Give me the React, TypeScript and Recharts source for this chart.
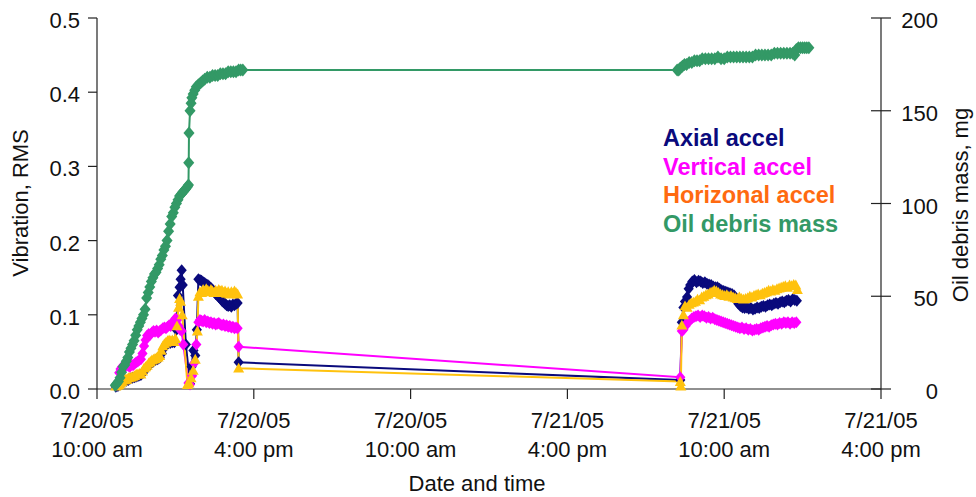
import React from 'react';
import { LineChart, Line, XAxis, YAxis, Label } from 'recharts';

const FONT = '"Liberation Sans", Arial, sans-serif';

// x axis: hours after 7/20/05 10:00 am
const hourTicks = [0, 6, 12, 18, 24, 30];
const dateLabels = ['7/20/05', '7/20/05', '7/20/05', '7/21/05', '7/21/05', '7/21/05'];
const timeLabels = ['10:00 am', '4:00 pm', '10:00 am', '4:00 pm', '10:00 am', '4:00 pm'];
const vibrationTicks = [0, 0.1, 0.2, 0.3, 0.4, 0.5];
const debrisTicks = [0, 50, 100, 150, 200];

// [hours, RMS]
const axialPoints = [
    [0.72, 0.003], [0.8, 0.004], [0.88, 0.006], [0.96, 0.008], [1.04, 0.01], [1.12, 0.011], [1.2, 0.012],
    [1.28, 0.014], [1.36, 0.015], [1.44, 0.016], [1.52, 0.017], [1.6, 0.018], [1.68, 0.019], [1.76, 0.022],
    [1.84, 0.026], [1.92, 0.029], [2.0, 0.032], [2.08, 0.035], [2.16, 0.037], [2.24, 0.039], [2.32, 0.04],
    [2.4, 0.042], [2.48, 0.048], [2.56, 0.055], [2.64, 0.06], [2.72, 0.062], [2.8, 0.062], [2.88, 0.063],
    [2.96, 0.063], [3.04, 0.08], [3.1, 0.126], [3.16, 0.137], [3.2, 0.148], [3.24, 0.16], [3.28, 0.14],
    [3.4, 0.06], [3.56, 0.007], [3.62, 0.03], [3.69, 0.052], [3.76, 0.045], [3.82, 0.08], [3.88, 0.148],
    [3.94, 0.147], [4.0, 0.146], [4.06, 0.144], [4.12, 0.143], [4.18, 0.141], [4.24, 0.14], [4.3, 0.138],
    [4.36, 0.136], [4.42, 0.134], [4.48, 0.131], [4.54, 0.128], [4.6, 0.126], [4.66, 0.124], [4.72, 0.122],
    [4.78, 0.119], [4.84, 0.117], [4.9, 0.115], [4.96, 0.113], [5.02, 0.112], [5.08, 0.113], [5.14, 0.111],
    [5.2, 0.114], [5.26, 0.113], [5.32, 0.115], [5.38, 0.116], [5.42, 0.036],
    [22.32, 0.012], [22.38, 0.09], [22.44, 0.11], [22.5, 0.118], [22.58, 0.124], [22.64, 0.135], [22.7, 0.14],
    [22.78, 0.145], [22.86, 0.147], [22.94, 0.144], [23.02, 0.146], [23.1, 0.145], [23.18, 0.143],
    [23.26, 0.144], [23.34, 0.142], [23.42, 0.141], [23.5, 0.14], [23.58, 0.138], [23.66, 0.137],
    [23.74, 0.137], [23.82, 0.135], [23.9, 0.133], [23.98, 0.132], [24.06, 0.131], [24.14, 0.13],
    [24.22, 0.129], [24.3, 0.128], [24.38, 0.126], [24.46, 0.12], [24.54, 0.115], [24.62, 0.112],
    [24.7, 0.11], [24.78, 0.109], [24.86, 0.11], [24.94, 0.108], [25.02, 0.109], [25.1, 0.107],
    [25.18, 0.108], [25.26, 0.11], [25.34, 0.109], [25.42, 0.111], [25.5, 0.112], [25.58, 0.111],
    [25.66, 0.113], [25.74, 0.114], [25.82, 0.113], [25.9, 0.115], [25.98, 0.116], [26.06, 0.115],
    [26.14, 0.117], [26.22, 0.118], [26.3, 0.117], [26.38, 0.119], [26.46, 0.12], [26.54, 0.118],
    [26.62, 0.121], [26.7, 0.12], [26.78, 0.119],
];

const verticalPoints = [
    [0.85, 0.022], [0.9, 0.027], [0.96, 0.03], [1.02, 0.031], [1.08, 0.03], [1.14, 0.032], [1.2, 0.031],
    [1.26, 0.03], [1.32, 0.033], [1.38, 0.032], [1.44, 0.034], [1.5, 0.036], [1.56, 0.037], [1.62, 0.039],
    [1.68, 0.04], [1.74, 0.048], [1.8, 0.058], [1.86, 0.066], [1.92, 0.072], [1.98, 0.074], [2.04, 0.073],
    [2.1, 0.076], [2.16, 0.078], [2.22, 0.077], [2.28, 0.079], [2.34, 0.076], [2.4, 0.078], [2.46, 0.08],
    [2.52, 0.082], [2.58, 0.083], [2.64, 0.082], [2.7, 0.084], [2.76, 0.086], [2.82, 0.085], [2.88, 0.088],
    [2.94, 0.092], [3.0, 0.095], [3.06, 0.093], [3.12, 0.085], [3.18, 0.08], [3.24, 0.078], [3.3, 0.06],
    [3.5, 0.008], [3.56, 0.006], [3.64, 0.018], [3.72, 0.035], [3.8, 0.06], [3.88, 0.09], [3.94, 0.093],
    [4.0, 0.092], [4.06, 0.091], [4.12, 0.093], [4.18, 0.09], [4.24, 0.091], [4.3, 0.089], [4.36, 0.09],
    [4.42, 0.088], [4.48, 0.089], [4.54, 0.087], [4.6, 0.088], [4.66, 0.089], [4.72, 0.087], [4.78, 0.086],
    [4.84, 0.087], [4.9, 0.085], [4.96, 0.086], [5.02, 0.084], [5.08, 0.085], [5.14, 0.083], [5.2, 0.084],
    [5.26, 0.082], [5.32, 0.083], [5.38, 0.082], [5.42, 0.057],
    [22.32, 0.016], [22.38, 0.078], [22.44, 0.08], [22.52, 0.085], [22.6, 0.09], [22.68, 0.092],
    [22.76, 0.095], [22.84, 0.097], [22.92, 0.098], [23.0, 0.099], [23.08, 0.097], [23.16, 0.099],
    [23.24, 0.098], [23.32, 0.096], [23.4, 0.097], [23.48, 0.095], [23.56, 0.096], [23.64, 0.094],
    [23.72, 0.093], [23.8, 0.092], [23.88, 0.091], [23.96, 0.09], [24.04, 0.089], [24.12, 0.088],
    [24.2, 0.087], [24.28, 0.086], [24.36, 0.085], [24.44, 0.084], [24.52, 0.083], [24.6, 0.082],
    [24.68, 0.083], [24.76, 0.081], [24.84, 0.082], [24.92, 0.08], [25.0, 0.081], [25.08, 0.079],
    [25.16, 0.08], [25.24, 0.081], [25.32, 0.08], [25.4, 0.082], [25.48, 0.083], [25.56, 0.084],
    [25.64, 0.085], [25.72, 0.084], [25.8, 0.086], [25.88, 0.087], [25.96, 0.088], [26.04, 0.087],
    [26.12, 0.089], [26.2, 0.088], [26.28, 0.09], [26.36, 0.089], [26.44, 0.09], [26.52, 0.088],
    [26.6, 0.09], [26.68, 0.089], [26.76, 0.09],
];

const horizontalPoints = [
    [0.72, 0.004], [0.78, 0.005], [0.84, 0.006], [0.9, 0.008], [0.96, 0.01], [1.02, 0.012], [1.08, 0.013],
    [1.14, 0.013], [1.2, 0.015], [1.26, 0.016], [1.32, 0.016], [1.38, 0.017], [1.44, 0.018], [1.5, 0.02],
    [1.56, 0.02], [1.62, 0.021], [1.68, 0.02], [1.74, 0.024], [1.8, 0.028], [1.86, 0.03], [1.92, 0.032],
    [1.98, 0.035], [2.04, 0.037], [2.1, 0.039], [2.16, 0.04], [2.22, 0.041], [2.28, 0.042], [2.34, 0.043],
    [2.4, 0.045], [2.46, 0.052], [2.52, 0.058], [2.58, 0.061], [2.64, 0.063], [2.7, 0.065], [2.76, 0.066],
    [2.82, 0.065], [2.88, 0.066], [2.94, 0.064], [3.0, 0.068], [3.06, 0.085], [3.12, 0.11], [3.16, 0.122],
    [3.2, 0.118], [3.26, 0.1], [3.46, 0.006], [3.52, 0.008], [3.6, 0.015], [3.68, 0.025], [3.76, 0.04],
    [3.84, 0.078], [3.88, 0.125], [3.94, 0.131], [4.0, 0.13], [4.06, 0.134], [4.12, 0.132], [4.18, 0.135],
    [4.24, 0.133], [4.3, 0.131], [4.36, 0.134], [4.42, 0.132], [4.48, 0.13], [4.54, 0.133], [4.6, 0.131],
    [4.66, 0.134], [4.72, 0.132], [4.78, 0.133], [4.84, 0.13], [4.9, 0.132], [4.96, 0.129], [5.02, 0.131],
    [5.08, 0.128], [5.14, 0.131], [5.2, 0.129], [5.26, 0.132], [5.32, 0.13], [5.38, 0.128], [5.42, 0.028],
    [22.32, 0.01], [22.34, 0.004], [22.38, 0.086], [22.44, 0.1], [22.5, 0.112], [22.58, 0.11],
    [22.66, 0.114], [22.74, 0.116], [22.82, 0.117], [22.9, 0.118], [22.98, 0.121], [23.06, 0.12],
    [23.14, 0.124], [23.22, 0.125], [23.3, 0.127], [23.38, 0.128], [23.46, 0.13], [23.54, 0.131],
    [23.62, 0.133], [23.7, 0.132], [23.78, 0.13], [23.86, 0.128], [23.94, 0.127], [24.02, 0.126],
    [24.1, 0.127], [24.18, 0.125], [24.26, 0.126], [24.34, 0.124], [24.42, 0.123], [24.5, 0.122],
    [24.58, 0.124], [24.66, 0.122], [24.74, 0.121], [24.82, 0.122], [24.9, 0.123], [24.98, 0.125],
    [25.06, 0.124], [25.14, 0.126], [25.22, 0.127], [25.3, 0.128], [25.38, 0.127], [25.46, 0.129],
    [25.54, 0.13], [25.62, 0.131], [25.7, 0.133], [25.78, 0.132], [25.86, 0.134], [25.94, 0.133],
    [26.02, 0.135], [26.1, 0.136], [26.18, 0.137], [26.26, 0.138], [26.34, 0.139], [26.42, 0.137],
    [26.5, 0.14], [26.58, 0.139], [26.66, 0.141], [26.74, 0.14], [26.8, 0.134],
];

// [hours, mg]
const debrisPoints = [
    [0.7, 2], [0.76, 3], [0.82, 4], [0.88, 6], [0.94, 9], [1.0, 12], [1.06, 13], [1.12, 15], [1.18, 17],
    [1.24, 20], [1.3, 22], [1.36, 24], [1.42, 26], [1.48, 29], [1.54, 32], [1.6, 34], [1.66, 36], [1.72, 38],
    [1.78, 40], [1.84, 43], [1.9, 49], [1.96, 52], [2.02, 55], [2.08, 58], [2.14, 60], [2.2, 62], [2.26, 63],
    [2.32, 65], [2.38, 67], [2.44, 70], [2.5, 72], [2.56, 75], [2.62, 77], [2.68, 80], [2.74, 85], [2.8, 89],
    [2.86, 93], [2.92, 95], [2.98, 98], [3.04, 100], [3.1, 102], [3.16, 104], [3.22, 105], [3.28, 106],
    [3.34, 107], [3.4, 108], [3.46, 109], [3.5, 110], [3.51, 122], [3.52, 138], [3.56, 150], [3.6, 154],
    [3.63, 157], [3.68, 159], [3.74, 161], [3.8, 163], [3.88, 164], [3.96, 165], [4.04, 166], [4.12, 167],
    [4.22, 168], [4.32, 168], [4.42, 169], [4.52, 169], [4.62, 169], [4.72, 170], [4.82, 170], [4.92, 170],
    [5.02, 171], [5.12, 171], [5.22, 171], [5.32, 171], [5.42, 172], [5.5, 172], [5.58, 172],
    [22.2, 172], [22.26, 172], [22.32, 173], [22.4, 174], [22.48, 175], [22.56, 175], [22.66, 176],
    [22.76, 176], [22.86, 177], [22.96, 177], [23.06, 177], [23.16, 178], [23.28, 178], [23.4, 178],
    [23.52, 178], [23.64, 178], [23.76, 179], [23.88, 178], [24.0, 178], [24.12, 179], [24.24, 179],
    [24.36, 179], [24.48, 179], [24.6, 179], [24.72, 179], [24.84, 179], [24.96, 179], [25.08, 179],
    [25.2, 180], [25.32, 180], [25.44, 180], [25.56, 180], [25.68, 180], [25.8, 180], [25.92, 181],
    [26.04, 181], [26.16, 181], [26.28, 181], [26.4, 181], [26.52, 181], [26.62, 181], [26.7, 180],
    [26.76, 183], [26.84, 184], [26.92, 184], [27.0, 184], [27.08, 184], [27.16, 184], [27.24, 184],
];

const toRows = (pts: number[][]) => pts.map(([h, v]) => ({ h, v }));

const series = [
    { name: 'Axial accel', points: axialPoints, axis: 'vib', stroke: '#0a0a7c', text: '#0a0a7c', marker: 'diamond', size: 6 },
    { name: 'Vertical accel', points: verticalPoints, axis: 'vib', stroke: '#ff00ff', text: '#ff00ff', marker: 'diamond', size: 6 },
    { name: 'Horizonal accel', points: horizontalPoints, axis: 'vib', stroke: '#ffc20e', text: '#ff6a10', marker: 'triangle', size: 5.5 },
    { name: 'Oil debris mass', points: debrisPoints, axis: 'mass', stroke: '#339966', text: '#339966', marker: 'diamond', size: 6.5 },
];

function Marker({ cx, cy, fill, kind, r }: any) {
    if (cx == null || cy == null) return null;
    if (kind === 'triangle') {
        return <polygon points={`${cx},${cy - r} ${cx + r},${cy + r * 0.8} ${cx - r},${cy + r * 0.8}`} fill={fill} />;
    }
    return <polygon points={`${cx},${cy - r} ${cx + r * 0.85},${cy} ${cx},${cy + r} ${cx - r * 0.85},${cy}`} fill={fill} />;
}

function LeftTick({ x, y, payload }: any) {
    return (
        <text x={x} y={y + 10} textAnchor="end" fontSize={22} fill="#111" fontFamily={FONT}>
            {Number(payload.value).toFixed(1)}
        </text>
    );
}

function RightTick({ x, y, payload }: any) {
    const axisX = x - 57;
    return (
        <g>
            <line x1={axisX - 10} x2={axisX} y1={y} y2={y} stroke="#222" strokeWidth={1.2} />
            <text x={x} y={y + 10} textAnchor="end" fontSize={22} fill="#111" fontFamily={FONT}>
                {payload.value}
            </text>
        </g>
    );
}

function BottomTick({ x, y, payload, index }: any) {
    const i = hourTicks.indexOf(payload.value);
    const k = i >= 0 ? i : index;
    return (
        <text x={x} textAnchor="middle" fontSize={22} fill="#111" fontFamily={FONT}>
            <tspan x={x} y={y + 29}>{dateLabels[k]}</tspan>
            <tspan x={x} y={y + 57.5}>{timeLabels[k]}</tspan>
        </text>
    );
}

export default function App() {
    return (
        <div style={{ position: 'absolute', left: 0, top: 0, width: 976, height: 497, background: '#fff' }}>
            <LineChart width={976} height={497} margin={{ top: 18, right: 35, left: 37, bottom: 28 }}>
                <XAxis
                    type="number"
                    dataKey="h"
                    domain={[0, 30]}
                    ticks={hourTicks}
                    height={80}
                    tickSize={10}
                    tickMargin={0}
                    tick={<BottomTick />}
                    stroke="#222"
                    strokeWidth={1.2}
                    allowDuplicatedCategory={false}
                >
                    <Label
                        content={() => (
                            <text x={477} y={491} textAnchor="middle" fontSize={22} fill="#111" fontFamily={FONT}>
                                Date and time
                            </text>
                        )}
                    />
                </XAxis>
                <YAxis
                    yAxisId="vib"
                    domain={[0, 0.5]}
                    ticks={vibrationTicks}
                    width={60}
                    tickSize={9}
                    tickMargin={8}
                    tick={<LeftTick />}
                    stroke="#222"
                    strokeWidth={1.2}
                >
                    <Label
                        content={() => (
                            <text
                                x={20}
                                y={203}
                                transform="rotate(-90 20 203)"
                                textAnchor="middle"
                                dominantBaseline="central"
                                fontSize={22}
                                fill="#111"
                                fontFamily={FONT}
                            >
                                Vibration, RMS
                            </text>
                        )}
                    />
                </YAxis>
                <YAxis
                    yAxisId="mass"
                    orientation="right"
                    domain={[0, 200]}
                    ticks={debrisTicks}
                    width={60}
                    tickSize={10}
                    tickMargin={47}
                    tick={<RightTick />}
                    stroke="#222"
                    strokeWidth={1.2}
                >
                    <Label
                        content={() => (
                            <text
                                x={960}
                                y={205}
                                transform="rotate(-90 960 205)"
                                textAnchor="middle"
                                dominantBaseline="central"
                                fontSize={22}
                                fill="#111"
                                fontFamily={FONT}
                            >
                                Oil debris mass, mg
                            </text>
                        )}
                    />
                </YAxis>
                {series.map((s) => (
                    <Line
                        key={s.name}
                        name={s.name}
                        data={toRows(s.points)}
                        dataKey="v"
                        yAxisId={s.axis}
                        type="linear"
                        stroke={s.stroke}
                        strokeWidth={2}
                        dot={(p: any) => (
                            <Marker key={`${s.name}-${p.index}`} cx={p.cx} cy={p.cy} fill={s.stroke} kind={s.marker} r={s.size} />
                        )}
                        activeDot={false}
                        isAnimationActive={false}
                    />
                ))}
            </LineChart>
            <div
                style={{
                    position: 'absolute',
                    left: 663,
                    top: 124,
                    fontFamily: FONT,
                    fontSize: 23.5,
                    fontWeight: 'bold',
                    lineHeight: '28.5px',
                }}
            >
                {series.map((s) => (
                    <div key={s.name} style={{ color: s.text, whiteSpace: 'nowrap' }}>
                        {s.name}
                    </div>
                ))}
            </div>
        </div>
    );
}
